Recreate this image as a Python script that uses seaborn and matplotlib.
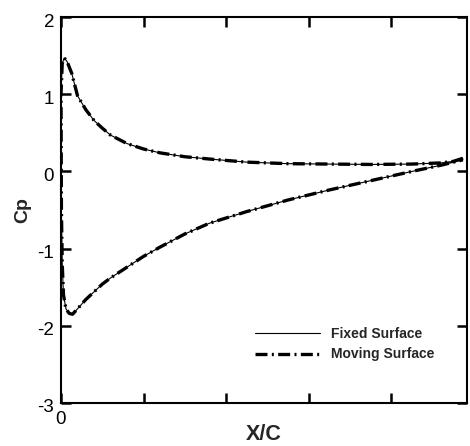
import matplotlib
matplotlib.use("Agg")
import matplotlib.pyplot as plt
import matplotlib.transforms as mtransforms
import seaborn as sns
import pandas as pd

# Upper branch (trailing edge -> leading edge) and lower branch (leading edge -> trailing edge)
upper_x = [0.973, 0.95, 0.92, 0.85, 0.75, 0.65, 0.55, 0.45, 0.36, 0.30, 0.24, 0.20, 0.16,
           0.12, 0.10, 0.08, 0.06, 0.04, 0.026, 0.015, 0.008, 0.003, 0.0]
upper_cp = [0.17, 0.13, 0.11, 0.095, 0.09, 0.095, 0.10, 0.12, 0.16, 0.19, 0.24, 0.29, 0.36,
            0.47, 0.56, 0.66, 0.80, 0.98, 1.27, 1.42, 1.47, 1.40, 1.0]
lower_x = [0.0, 0.001, 0.003, 0.006, 0.012, 0.02, 0.028, 0.04, 0.06, 0.08, 0.10, 0.12, 0.16,
           0.20, 0.24, 0.30, 0.36, 0.45, 0.55, 0.65, 0.75, 0.85, 0.92, 0.973]
lower_cp = [1.0, -0.5, -1.2, -1.6, -1.78, -1.84, -1.85, -1.78, -1.66, -1.56, -1.46, -1.38, -1.24,
            -1.10, -0.98, -0.81, -0.67, -0.52, -0.37, -0.24, -0.12, 0.0, 0.08, 0.15]

series_names = ["Fixed Surface", "Moving Surface"]
y_ticks = [-3, -2, -1, 0, 1, 2]
x_ticks = [0.0, 0.2, 0.4, 0.6, 0.8]
x_tick_labels = ["0", "", "", "", ""]

sns.set_style("ticks")
plt.rcParams["font.family"] = ["Liberation Sans", "DejaVu Sans"]

loop_x = upper_x + lower_x
loop_cp = upper_cp + lower_cp
df_fixed = pd.DataFrame({"x": loop_x, "cp": loop_cp})
df_moving = pd.DataFrame({"x": loop_x, "cp": loop_cp})

fig = plt.figure(figsize=(4.70, 4.46), dpi=100)
ax = fig.add_axes([61 / 470, 1 - 403 / 446, 406 / 470, 386 / 446])

sns.lineplot(data=df_fixed, x="x", y="cp", sort=False, estimator=None, ax=ax,
             color="black", linewidth=0.8, label=series_names[0])
sns.lineplot(data=df_moving, x="x", y="cp", sort=False, estimator=None, ax=ax,
             color="black", linewidth=2.4, label=series_names[1])
ax.lines[1].set_dashes((3.6, 1.3, 0.6, 1.3))

ax.set_xlim(0, 406 / 413)
ax.set_ylim(-3, 2)
ax.set_xticks(x_ticks)
ax.set_xticklabels(x_tick_labels)
ax.set_yticks(y_ticks)
ax.set_yticklabels([str(v) for v in y_ticks])

for s in ax.spines.values():
    s.set_visible(True)
    s.set_linewidth(1.5)
    s.set_color("black")
ax.tick_params(direction="in", length=7, width=1.8, top=True, right=True,
               labelsize=13.5, colors="black", pad=5)
ax.tick_params(axis="x", pad=6)

# Tecplot-style labels sit a little below their ticks
shift = mtransforms.ScaledTranslation(0, -3 / 100, fig.dpi_scale_trans)
for lab in ax.get_yticklabels():
    lab.set_transform(lab.get_transform() + shift)

ax.set_xlabel("X/C", fontsize=15.5, fontweight="bold")
ax.xaxis.set_label_coords(0.5, -0.055)
ax.set_ylabel("Cp", fontsize=14, fontweight="bold", labelpad=4)

leg = ax.legend(loc="center left", bbox_to_anchor=(0.478, 0.152), frameon=False,
                prop={"weight": "bold", "size": 10}, handlelength=4.7,
                handletextpad=0.8, labelspacing=0.45, borderpad=0, borderaxespad=0)

fig.savefig("out.png", dpi=100)
